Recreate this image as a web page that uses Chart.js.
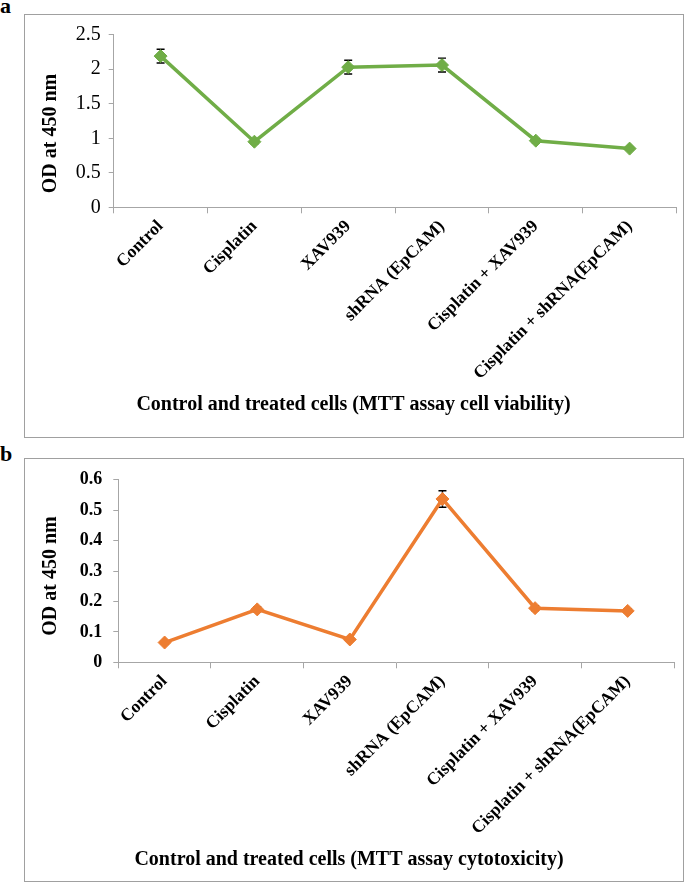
<!DOCTYPE html>
<html><head><meta charset="utf-8">
<script src="https://cdn.jsdelivr.net/npm/chart.js@4"></script>
<style>
html,body{margin:0;padding:0;background:#fff;width:685px;height:882px;overflow:hidden;position:relative;}
.panel{position:absolute;left:24px;width:660px;height:424px;box-sizing:border-box;border:1px solid #a0a0a0;}
canvas{position:absolute;left:24px;}
.lbl{position:absolute;left:0;font-family:"Liberation Serif",serif;font-weight:bold;font-size:22px;line-height:22px;color:#000;}
</style>
</head><body>
<div class="lbl" style="top:-5px">a</div>
<div class="lbl" style="top:443px">b</div>
<div class="panel" style="top:14px"></div>
<div class="panel" style="top:458px"></div>
<canvas id="cA" width="660" height="424" style="top:14px;width:660px;height:424px"></canvas>
<canvas id="cB" width="660" height="424" style="top:458px;width:660px;height:424px"></canvas>
<script>
const categories = ["Control", "Cisplatin", "XAV939", "shRNA (EpCAM)", "Cisplatin + XAV939", "Cisplatin + shRNA(EpCAM)"];
const viabilityOD = [2.19, 0.95, 2.03, 2.06, 0.965, 0.85];
const viabilityErr = [0.10, 0.03, 0.10, 0.10, 0.03, 0.02];
const cytotoxOD = [0.065, 0.174, 0.075, 0.537, 0.178, 0.169];
const cytotoxErr = [0.005, 0.008, 0.005, 0.027, 0.008, 0.006];
const viabilityTicks = [0, 0.5, 1, 1.5, 2, 2.5];
const cytotoxTicks = [0, 0.1, 0.2, 0.3, 0.4, 0.5, 0.6];
const yAxisTitle = "OD at 450 nm";
const xTitleA = "Control and treated cells (MTT assay cell viability)";
const xTitleB = "Control and treated cells (MTT assay cytotoxicity)";

const FAM = '"Liberation Serif", "Times New Roman", serif';
const AXIS = '#a6a6a6';

const errorBars = {
  id: 'errorBars',
  beforeDatasetsDraw(chart, args, opts) {
    const errs = opts.errors || [];
    const meta = chart.getDatasetMeta(0);
    const ys = chart.scales.y;
    const vals = chart.data.datasets[0].data;
    const ctx = chart.ctx;
    ctx.save();
    ctx.strokeStyle = '#000';
    ctx.lineWidth = 1.4;
    meta.data.forEach((pt, i) => {
      const e = errs[i];
      if (!e) return;
      const x = pt.x;
      const y1 = ys.getPixelForValue(vals[i] + e);
      const y2 = ys.getPixelForValue(vals[i] - e);
      ctx.beginPath();
      ctx.moveTo(x, y1); ctx.lineTo(x, y2);
      ctx.moveTo(x - 4, y1); ctx.lineTo(x + 4, y1);
      ctx.moveTo(x - 4, y2); ctx.lineTo(x + 4, y2);
      ctx.stroke();
    });
    ctx.restore();
  }
};

function makeChart(id, p) {
  return new Chart(document.getElementById(id), {
    type: 'line',
    data: {
      labels: categories,
      datasets: [{
        data: p.values,
        borderColor: p.color,
        backgroundColor: p.color,
        pointBackgroundColor: p.color,
        pointBorderColor: p.color,
        borderWidth: 3.5,
        pointStyle: 'rectRot',
        pointRadius: 6.5,
        pointBorderWidth: 1,
        tension: 0
      }]
    },
    plugins: [errorBars],
    options: {
      responsive: false,
      animation: false,
      layout: { padding: { top: p.padTop, right: p.padRight, bottom: 0, left: 0 } },
      plugins: {
        legend: { display: false },
        tooltip: { enabled: false },
        errorBars: { errors: p.errors },
        title: {
          display: true, position: 'bottom', text: p.xTitle, color: '#000',
          font: { family: FAM, size: 20, weight: 'bold', lineHeight: 1.2 },
          padding: { top: 0, bottom: p.titleBottom }
        }
      },
      scales: {
        x: {
          type: 'category',
          offset: true,
          grid: { offset: true, drawOnChartArea: false, tickLength: 6, color: AXIS },
          border: { color: AXIS, width: 1 },
          ticks: {
            autoSkip: false, minRotation: 45, maxRotation: 45, padding: 3,
            color: '#000', font: { family: FAM, size: 17.5, weight: 'bold' }
          },
          afterFit: s => { s.height = p.xHeight; }
        },
        y: {
          min: 0, max: p.ticks[p.ticks.length - 1],
          afterBuildTicks: s => { s.ticks = p.ticks.map(v => ({ value: v })); },
          grid: { drawOnChartArea: false, tickLength: 5, color: AXIS },
          border: { color: AXIS, width: 1 },
          ticks: {
            padding: p.yPad, color: '#000',
            font: { family: FAM, size: p.yFontSize, weight: p.yFontWeight },
            callback: v => String(v)
          },
          title: {
            display: true, text: yAxisTitle + p.titleShift, color: '#000',
            font: { family: FAM, size: 20, weight: 'bold' },
            padding: { top: 15, bottom: 0 }
          },
          afterFit: s => { s.width = p.yWidth; }
        }
      }
    }
  });
}

makeChart('cA', {
  values: viabilityOD, errors: viabilityErr, ticks: viabilityTicks, color: '#70AD47',
  xTitle: xTitleA, padTop: 20.7, padRight: 1, titleBottom: 21, xHeight: 185.7,
  yWidth: 89.7, yPad: 8, yFontSize: 20, yFontWeight: 'normal', titleShift: '     '
});
makeChart('cB', {
  values: cytotoxOD, errors: cytotoxErr, ticks: cytotoxTicks, color: '#ED7D31',
  xTitle: xTitleB, padTop: 21, padRight: 10, titleBottom: 10, xHeight: 185.7,
  yWidth: 94.3, yPad: 11, yFontSize: 18, yFontWeight: 'bold', titleShift: '  '
});
</script>
</body></html>
